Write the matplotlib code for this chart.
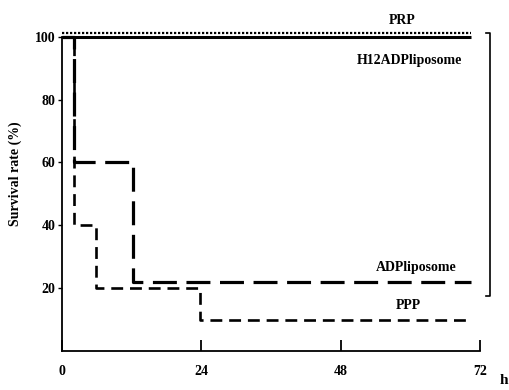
import matplotlib
matplotlib.use("Agg")
import matplotlib.pyplot as plt
import matplotlib.transforms as mtransforms

# ---- data ----
prp_t = [0, 70.5]
prp_s = [100, 100]
h12_t = [0, 70.5]
h12_s = [100, 100]
adp_t = [0, 2, 12.3, 70.5]
adp_s = [100, 60, 22, 22]
ppp_t = [0, 2, 5.8, 23.7, 70.5]
ppp_s = [100, 40, 20, 10, 10]
xticks = [0, 24, 48, 72]
yticks = [20, 40, 60, 80, 100]

plt.rcParams['font.family'] = ['Liberation Serif', 'DejaVu Serif']
plt.rcParams['font.weight'] = 'bold'

fig = plt.figure(figsize=(5.09, 3.90), dpi=100)
ax = fig.add_axes([0.122, 0.100, 0.821, 0.846])
ax.set_xlim(0, 72)
ax.set_ylim(0, 105)

# PRP drawn slightly above 100 so it is visible
prp_trans = mtransforms.offset_copy(ax.transData, fig=fig, x=0, y=4, units='dots')
ax.plot(prp_t, prp_s, color='black', lw=1.6, linestyle=(0, (1, 0.8)),
        transform=prp_trans, clip_on=False)
ax.plot(h12_t, h12_s, color='black', lw=2.2, solid_capstyle='butt', clip_on=False)
ax.step(adp_t, adp_s, where='post', color='black', lw=2.3,
        linestyle=(0, (7.5, 3)), clip_on=False)
ax.step(ppp_t, ppp_s, where='post', color='black', lw=1.9,
        linestyle=(0, (4.5, 2.6)), clip_on=False)

# spines
for s in ['top', 'right']:
    ax.spines[s].set_visible(False)
ax.spines['left'].set_bounds(0, 100)
ax.spines['left'].set_linewidth(1.3)
ax.spines['bottom'].set_linewidth(1.3)

ax.set_xticks(xticks)
ax.set_xticklabels([str(v) for v in xticks])
ax.set_yticks(yticks)
ax.set_yticklabels([str(v) for v in yticks])
ax.tick_params(axis='x', direction='in', length=8, width=1.3, labelsize=10, pad=10)
ax.tick_params(axis='y', direction='out', length=3, width=1.0, labelsize=10, pad=2)
for lab in ax.get_xticklabels() + ax.get_yticklabels():
    lab.set_fontweight('bold')

fig.text(15 / 509, 1 - 174 / 390, 'Survival rate (%)', fontsize=10, fontweight='bold',
         rotation=90, ha='center', va='center')

# right bracket
ax.plot([73.0, 73.7, 73.7, 73.0], [101.2, 101.2, 17.5, 17.5],
        color='black', lw=1.2, clip_on=False)

# series labels
ax.text(58.6, 105.3, 'PRP', fontsize=10, fontweight='bold', ha='center', va='center')
ax.text(59.9, 92.3, 'H12ADPliposome', fontsize=10, fontweight='bold', ha='center', va='center')
ax.text(61.0, 26.7, 'ADPliposome', fontsize=10, fontweight='bold', ha='center', va='center')
ax.text(59.6, 14.6, 'PPP', fontsize=10, fontweight='bold', ha='center', va='center')

fig.text(500 / 509, 1 - 387 / 390, 'h', fontsize=11, fontweight='bold', ha='left', va='bottom')

fig.savefig('out.png', dpi=100)
